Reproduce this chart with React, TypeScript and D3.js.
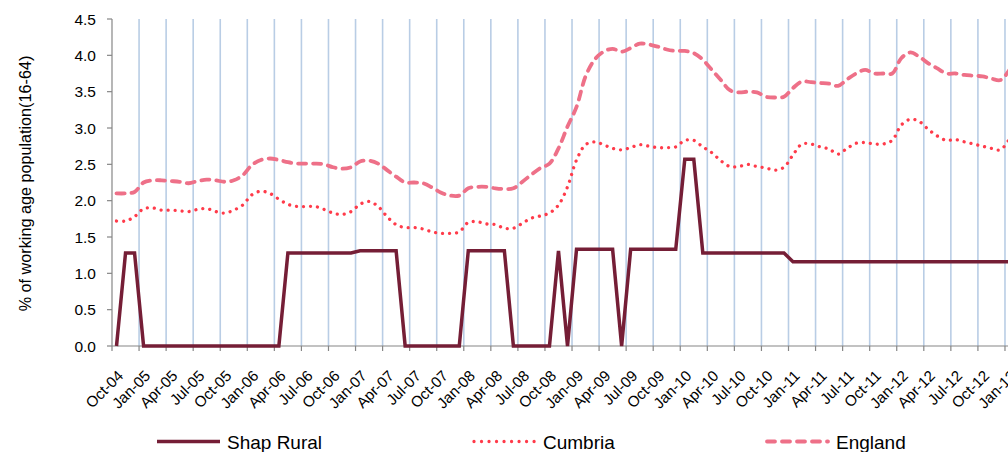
import React from "react";
import * as d3 from "d3";

const months: string[] = d3
  .timeMonth.range(new Date(2004, 9, 1), new Date(2013, 1, 1))
  .map((d) => d3.timeFormat("%b-%y")(d));

const tickLabels: string[] = [
  "Oct-04","Jan-05","Apr-05","Jul-05","Oct-05","Jan-06","Apr-06","Jul-06","Oct-06",
  "Jan-07","Apr-07","Jul-07","Oct-07","Jan-08","Apr-08","Jul-08","Oct-08","Jan-09",
  "Apr-09","Jul-09","Oct-09","Jan-10","Apr-10","Jul-10","Oct-10","Jan-11","Apr-11",
  "Jul-11","Oct-11","Jan-12","Apr-12","Jul-12","Oct-12","Jan-13",
];

const yTicks: number[] = [0, 0.5, 1, 1.5, 2, 2.5, 3, 3.5, 4, 4.5];

const shapRural: number[] = [
  0, 1.28, 1.28, 0, 0, 0, 0, 0, 0, 0,
  0, 0, 0, 0, 0, 0, 0, 0, 0, 1.28,
  1.28, 1.28, 1.28, 1.28, 1.28, 1.28, 1.28, 1.31, 1.31, 1.31,
  1.31, 1.31, 0, 0, 0, 0, 0, 0, 0, 1.31,
  1.31, 1.31, 1.31, 1.31, 0, 0, 0, 0, 0, 1.31,
  0, 1.33, 1.33, 1.33, 1.33, 1.33, 0, 1.33, 1.33, 1.33,
  1.33, 1.33, 1.33, 2.57, 2.57, 1.28, 1.28, 1.28, 1.28, 1.28,
  1.28, 1.28, 1.28, 1.28, 1.28, 1.16, 1.16, 1.16, 1.16, 1.16,
  1.16, 1.16, 1.16, 1.16, 1.16, 1.16, 1.16, 1.16, 1.16, 1.16,
  1.16, 1.16, 1.16, 1.16, 1.16, 1.16, 1.16, 1.16, 1.16, 1.16,
];

const cumbria: number[] = [
  1.72, 1.72, 1.78, 1.89, 1.90, 1.87, 1.87, 1.86, 1.85, 1.88,
  1.89, 1.85, 1.83, 1.87, 1.94, 2.08, 2.13, 2.10, 2.02, 1.95,
  1.92, 1.92, 1.92, 1.88, 1.83, 1.81, 1.85, 1.95, 1.99, 1.92,
  1.78, 1.67, 1.63, 1.63, 1.61, 1.57, 1.55, 1.55, 1.57, 1.70,
  1.71, 1.68, 1.67, 1.62, 1.62, 1.69, 1.76, 1.79, 1.83, 1.94,
  2.19, 2.56, 2.77, 2.81, 2.77, 2.72, 2.70, 2.73, 2.77, 2.75,
  2.73, 2.73, 2.74, 2.83, 2.83, 2.74, 2.66, 2.55, 2.47, 2.47,
  2.50, 2.47, 2.45, 2.42, 2.46, 2.63, 2.78, 2.78, 2.74, 2.71,
  2.64, 2.72, 2.79, 2.80, 2.78, 2.78, 2.83, 3.04, 3.12, 3.09,
  2.98, 2.89, 2.83, 2.84, 2.81, 2.78, 2.75, 2.72, 2.70, 2.85,
];

const england: number[] = [
  2.10, 2.10, 2.12, 2.25, 2.28, 2.28, 2.27, 2.26, 2.24, 2.27,
  2.29, 2.28, 2.26, 2.28, 2.35, 2.49, 2.56, 2.58, 2.56, 2.53,
  2.51, 2.51, 2.51, 2.50, 2.46, 2.44, 2.46, 2.54, 2.55, 2.51,
  2.42, 2.33, 2.25, 2.25, 2.24, 2.18, 2.11, 2.07, 2.07, 2.17,
  2.19, 2.19, 2.17, 2.16, 2.17, 2.26, 2.36, 2.45, 2.51, 2.72,
  3.02, 3.29, 3.71, 3.94, 4.05, 4.09, 4.05, 4.10, 4.16, 4.15,
  4.12, 4.08, 4.06, 4.06, 4.03, 3.94, 3.80, 3.66, 3.52, 3.49,
  3.50, 3.49, 3.43, 3.42, 3.43, 3.55, 3.64, 3.63, 3.62, 3.61,
  3.58, 3.67, 3.75, 3.80, 3.75, 3.75, 3.75, 3.96, 4.04, 3.98,
  3.89, 3.82, 3.75, 3.75, 3.73, 3.72, 3.71, 3.68, 3.66, 3.80,
];

const W = 1008;
const H = 452;
const FONT = "'Liberation Sans', Arial, sans-serif";

export default function App() {
  const left = 112;
  const top = 19;
  const bottom = 346;
  const step = 9.02;
  const x = d3
    .scaleBand<string>()
    .domain(months)
    .range([left, left + months.length * step])
    .paddingInner(0)
    .paddingOuter(0);
  const y = d3.scaleLinear().domain([0, 4.5]).range([bottom, top]);
  const cx = (i: number) => (x(months[i]) as number) + x.bandwidth() / 2;

  const linear = d3
    .line<number>()
    .x((_, i) => cx(i))
    .y((d) => y(d));
  const smooth = d3
    .line<number>()
    .x((_, i) => cx(i))
    .y((d) => y(d))
    .curve(d3.curveCatmullRom.alpha(0.5));

  const tickIdx = tickLabels.map((_, k) => k * 3);

  const cShap = "#751E36";
  const cCum = "#FF3B4A";
  const cEng = "#EE7088";

  return (
    <svg
      width={W}
      height={H}
      style={{ position: "fixed", left: 0, top: 0, background: "#fff" }}
      fontFamily={FONT}
    >
      <rect width={W} height={H} fill="#fff" />
      {tickIdx.slice(1).map((i) => {
        const gx = x(months[i]) as number;
        return (
          <line key={"g" + i} x1={gx} x2={gx} y1={top} y2={bottom} stroke="#B9CDE5" strokeWidth={1.6} />
        );
      })}
      <line x1={left} x2={left} y1={top} y2={bottom} stroke="#868686" strokeWidth={1.2} />
      {yTicks.map((t) => (
        <g key={"y" + t}>
          <line x1={left - 5} x2={left} y1={y(t)} y2={y(t)} stroke="#868686" strokeWidth={1.2} />
          <text x={96} y={y(t)} dy="0.36em" textAnchor="end" fontSize={15.5} fill="#000">
            {t.toFixed(1)}
          </text>
        </g>
      ))}
      <text
        transform={`translate(31, ${(top + bottom) / 2 + 1}) rotate(-90)`}
        textAnchor="middle"
        fontSize={16.2}
        fill="#000"
      >
        % of working age population(16-64)
      </text>
      <line x1={left} x2={W + 20} y1={bottom} y2={bottom} stroke="#868686" strokeWidth={1.2} />
      {tickIdx.map((i) => {
        const tx = x(months[i]) as number;
        return (
          <line key={"t" + i} x1={tx} x2={tx} y1={bottom} y2={bottom + 5} stroke="#868686" strokeWidth={1.2} />
        );
      })}
      {tickLabels.map((lab, k) => {
        const px = cx(k * 3) + 4;
        return (
          <text
            key={"xl" + lab}
            transform={`translate(${px}, ${bottom + 27}) rotate(-45)`}
            textAnchor="end"
            dy="0.35em"
            fontSize={15.2}
            fill="#000"
          >
            {lab}
          </text>
        );
      })}
      <path d={smooth(england) || ""} fill="none" stroke={cEng} strokeWidth={3.8} strokeDasharray="8,7" strokeLinecap="round" />
      <path d={smooth(cumbria) || ""} fill="none" stroke={cCum} strokeWidth={3.3} strokeDasharray="0.01,7" strokeLinecap="round" />
      <path d={linear(shapRural) || ""} fill="none" stroke={cShap} strokeWidth={3.5} strokeLinejoin="miter" />
      <g fontSize={19} fill="#000">
        <line x1={157} x2={220} y1={441.5} y2={441.5} stroke={cShap} strokeWidth={3.5} />
        <text x={227} y={448.5}>Shap Rural</text>
        <line x1={474} x2={536} y1={441.5} y2={441.5} stroke={cCum} strokeWidth={3.3} strokeDasharray="0.01,7.5" strokeLinecap="round" />
        <text x={543} y={448.5}>Cumbria</text>
        <line x1={767} x2={828} y1={441.5} y2={441.5} stroke={cEng} strokeWidth={3.8} strokeDasharray="8,7" strokeLinecap="round" />
        <text x={836} y={448.5}>England</text>
      </g>
    </svg>
  );
}
